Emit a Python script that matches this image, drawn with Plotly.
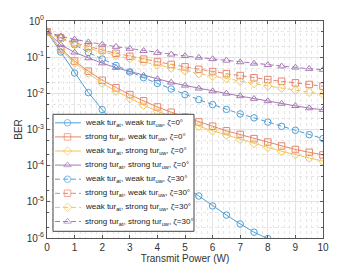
import plotly.graph_objects as go

power = [i * 0.5 for i in range(21)]

ww0 = [0.5, 0.139, 0.0365, 0.0105, 0.00355, 0.00132, 0.00054, 0.000235, 0.000107, 5.1e-5, 2.6e-5,
       1.45e-5, 7.7e-6, 4.3e-6, 2.45e-6, 1.45e-6, 9.6e-7, 5.8e-7, 3.6e-7, 2.2e-7, 1.4e-7]
sw0 = [0.5, 0.17, 0.078, 0.041, 0.023, 0.0142, 0.0092, 0.0062, 0.0042, 0.0030, 0.0022,
       0.00162, 0.00123, 0.00092, 0.00073, 0.00056, 0.00045, 0.00035, 0.00028, 0.000234, 0.000198]
ws0 = [0.5, 0.16, 0.069, 0.036, 0.0190, 0.0115, 0.0072, 0.0047, 0.0032, 0.0023, 0.00165,
       0.00123, 0.00092, 0.00070, 0.00053, 0.00041, 0.00032, 0.00025, 0.000203, 0.000163, 0.000133]
ss0 = [0.5, 0.22, 0.135, 0.094, 0.068, 0.051, 0.040, 0.031, 0.025, 0.020, 0.0165,
       0.0137, 0.0115, 0.0099, 0.0084, 0.0071, 0.0061, 0.0052, 0.0045, 0.0039, 0.0035]
ww30 = [0.5, 0.35, 0.22, 0.135, 0.089, 0.059, 0.039, 0.027, 0.0188, 0.0132, 0.0092,
        0.0067, 0.0049, 0.0036, 0.0027, 0.0021, 0.0016, 0.00122, 0.00095, 0.00072, 0.00056]
sw30 = [0.5, 0.34, 0.25, 0.195, 0.158, 0.128, 0.106, 0.088, 0.074, 0.063, 0.054,
        0.046, 0.040, 0.035, 0.031, 0.027, 0.024, 0.0215, 0.0195, 0.0176, 0.0158]
ws30 = [0.5, 0.32, 0.23, 0.175, 0.14, 0.112, 0.091, 0.074, 0.061, 0.050, 0.042,
        0.035, 0.030, 0.0255, 0.0215, 0.0185, 0.016, 0.014, 0.0122, 0.0107, 0.0094]
ss30 = [0.5, 0.38, 0.31, 0.26, 0.225, 0.195, 0.172, 0.150, 0.133, 0.119, 0.108,
        0.098, 0.089, 0.081, 0.073, 0.067, 0.061, 0.056, 0.052, 0.048, 0.045]

names = [
    "weak tur<sub>at</sub>, weak tur<sub>uw</sub>, ζ=0°",
    "strong tur<sub>at</sub>, weak tur<sub>uw</sub>, ζ=0°",
    "weak tur<sub>at</sub>, strong tur<sub>uw</sub>, ζ=0°",
    "strong tur<sub>at</sub>, strong tur<sub>uw</sub>, ζ=0°",
    "weak tur<sub>at</sub>, weak tur<sub>uw</sub>, ζ=30°",
    "strong tur<sub>at</sub>, weak tur<sub>uw</sub>, ζ=30°",
    "weak tur<sub>at</sub>, strong tur<sub>uw</sub>, ζ=30°",
    "strong tur<sub>at</sub>, strong tur<sub>uw</sub>, ζ=30°",
]
series = [ww0, sw0, ws0, ss0, ww30, sw30, ws30, ss30]
colors = ["#4FA0D8", "#E8866A", "#F2C55A", "#A57AB5"]
symbols = ["circle-open", "square-open", "diamond-open", "triangle-up-open"]

ytickvals = [1e-6, 1e-5, 1e-4, 1e-3, 1e-2, 1e-1, 1]
yticktext = ["10<sup>-6</sup>", "10<sup>-5</sup>", "10<sup>-4</sup>", "10<sup>-3</sup>",
             "10<sup>-2</sup>", "10<sup>-1</sup>", "10<sup>0</sup>"]

DASH = "5px,3px"
MSIZE = 6.5

fig = go.Figure()
for i, (nm, ys) in enumerate(zip(names, series)):
    k = i % 4
    fig.add_trace(go.Scatter(
        x=power, y=ys, name=nm, mode="lines+markers", showlegend=False,
        line=dict(color=colors[k], width=1, dash="solid" if i < 4 else DASH),
        marker=dict(symbol=symbols[k], size=MSIZE, color=colors[k], line=dict(width=1, color=colors[k])),
    ))

# ---- custom legend drawn on an overlay axis measured in plot pixels ----
L_left, L_right, L_top, L_bot = 53, 194, 114, 231
fig.add_trace(go.Scatter(
    x=[L_left, L_right, L_right, L_left, L_left], y=[L_top, L_top, L_bot, L_bot, L_top],
    xaxis="x2", yaxis="y2", mode="lines", fill="toself", fillcolor="white",
    line=dict(color="#444", width=1), showlegend=False, hoverinfo="skip"))
annotations = []
for i, nm in enumerate(names):
    k = i % 4
    yr = 122.5 + 14.1 * i
    fig.add_trace(go.Scatter(
        x=[55, 67.5, 81], y=[yr, yr, yr], xaxis="x2", yaxis="y2",
        mode="lines+markers", showlegend=False, hoverinfo="skip",
        line=dict(color=colors[k], width=1, dash="solid" if i < 4 else DASH),
        marker=dict(symbol=symbols[k], size=[0, MSIZE, 0], color=colors[k],
                    line=dict(width=1, color=colors[k]))))
    annotations.append(dict(x=83, y=yr, xref="x2", yref="y2", text=nm, showarrow=False,
                            xanchor="left", yanchor="middle",
                            font=dict(size=8, color="#222")))

axis_common = dict(showline=True, linecolor="#555", linewidth=1, mirror="ticks",
                   ticks="inside", ticklen=3, tickcolor="#555",
                   gridcolor="#e3e3e3", gridwidth=1, zeroline=False,
                   tickfont=dict(size=10, color="#333"))

# page body has an 8px margin, so the figure is sized/offset to compensate
fig.update_layout(
    width=349, height=260,
    margin=dict(l=39, r=34, t=13, b=30, autoexpand=False),
    paper_bgcolor="white", plot_bgcolor="white",
    font=dict(family="Liberation Sans, Arial, sans-serif", size=10, color="#333"),
    showlegend=False,
    annotations=annotations,
    xaxis=dict(range=[0, 10], dtick=1,
               title=dict(text="Transmit Power (W)", font=dict(size=10), standoff=0),
               minor=dict(showgrid=True, dtick=0.2, griddash="dot", gridcolor="#e6e6e6"),
               **axis_common),
    yaxis=dict(type="log", range=[-6, 0], tickvals=ytickvals, ticktext=yticktext,
               title=dict(text="BER", font=dict(size=10), standoff=2),
               minor=dict(showgrid=True, griddash="dot", gridcolor="#e6e6e6", ticks="inside", ticklen=2),
               **axis_common),
    xaxis2=dict(overlaying="x", anchor="y2", range=[47, 323], visible=False, fixedrange=True),
    yaxis2=dict(overlaying="y", anchor="x2", range=[237.7, 20.7], visible=False, fixedrange=True),
)

fig.write_html("out.html")
